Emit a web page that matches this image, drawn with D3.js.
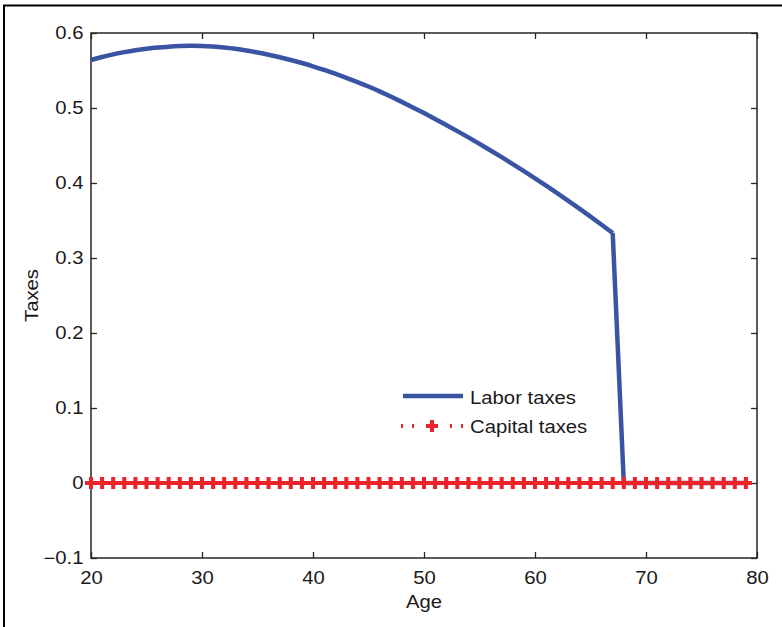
<!DOCTYPE html>
<html><head><meta charset="utf-8">
<script src="https://cdn.jsdelivr.net/npm/d3@7"></script>
<style>body{margin:0;background:#fff;}svg{display:block;font-family:"Liberation Sans",Arial,sans-serif;}</style>
</head><body>
<svg id="c" width="782" height="627"></svg>
<script>
const ages = d3.range(20, 80);
const laborTaxes = [0.5640,0.5680,0.5715,0.5745,0.5770,0.5790,0.5806,0.5818,0.5826,0.5829,
  0.5828,0.5820,0.5807,0.5789,0.5766,0.5739,0.5709,0.5676,0.5640,0.5600,
  0.5556,0.5508,0.5457,0.5403,0.5346,0.5286,0.5221,0.5153,0.5082,0.5008,
  0.4932,0.4854,0.4774,0.4692,0.4608,0.4522,0.4434,0.4344,0.4252,0.4158,
  0.4062,0.3964,0.3864,0.3762,0.3658,0.3552,0.3444,0.3334,0,0,
  0,0,0,0,0,0,0,0,0,0];
const capitalTaxes = ages.map(() => 0);
const xTicks = [20,30,40,50,60,70,80];
const yTicks = [-0.1,0,0.1,0.2,0.3,0.4,0.5,0.6];
const seriesNames = ["Labor taxes","Capital taxes"];

const svg = d3.select("#c");
const L=91, R=757, T=33, B=558;
const x = d3.scaleLinear().domain([20,80]).range([L,R]);
const y = d3.scaleLinear().domain([-0.1,0.6]).range([B,T]);
const blue="#3a54a4", red="#ee2229", axc="#262626";
const FS = "17.5px", SX = 1.16;

// outer frame
svg.append("rect").attr("x",4).attr("y",5.5).attr("width",900).attr("height",800)
  .attr("fill","none").attr("stroke","#000").attr("stroke-width",2);

// axes box
svg.append("rect").attr("x",L).attr("y",T).attr("width",R-L).attr("height",B-T)
  .attr("fill","none").attr("stroke",axc).attr("stroke-width",1.5);

const fmt = d => d===0 ? "0" : (d<0 ? "\u2212"+Math.abs(d).toFixed(1) : d.toFixed(1));
const ax = svg.append("g").attr("transform",`translate(0,${B})`)
  .call(d3.axisBottom(x).tickValues(xTicks).tickSize(-6).tickPadding(13.5).tickFormat(d3.format("d")));
const axT = svg.append("g").attr("transform",`translate(0,${T})`)
  .call(d3.axisTop(x).tickValues(xTicks).tickSize(-6).tickFormat(""));
const ay = svg.append("g").attr("transform",`translate(${L},0)`)
  .call(d3.axisLeft(y).tickValues(yTicks).tickSize(-6).tickPadding(6.5).tickFormat(fmt));
const ayR = svg.append("g").attr("transform",`translate(${R},0)`)
  .call(d3.axisRight(y).tickValues(yTicks).tickSize(-6).tickFormat(""));
[ax,axT,ay,ayR].forEach(g=>{
  g.select(".domain").remove();
  g.selectAll(".tick line").attr("stroke",axc).attr("stroke-width",1.3);
  g.selectAll(".tick text").attr("fill","#1a1a1a").style("font-size",FS)
    .style("font-family","Liberation Sans, Arial, sans-serif")
    .attr("transform",`scale(${SX},1)`);
});

// axis labels
svg.append("text").attr("transform",`translate(${(L+R)/2},607.5) scale(${SX},1)`).attr("text-anchor","middle")
  .attr("fill","#1a1a1a").style("font-size",FS).text("Age");
svg.append("text").attr("transform",`translate(38,${(T+B)/2}) rotate(-90) scale(${SX},1)`).attr("text-anchor","middle")
  .attr("fill","#1a1a1a").style("font-size",FS).text("Taxes");

const line = d3.line().x(d=>x(d.a)).y(d=>y(d.v));
const pts = laborTaxes.map((v,i)=>({a:ages[i], v}));
const lastWork = pts.findIndex(p=>p.v===0) - 1;

// labor line: smooth working-life part, then straight drop and zeros
svg.append("path").datum(pts.slice(0,lastWork+1)).attr("d",line.curve(d3.curveMonotoneX)).attr("fill","none")
  .attr("stroke",blue).attr("stroke-width",4.5);
svg.append("path").datum(pts.slice(lastWork)).attr("d",line.curve(d3.curveLinear)).attr("fill","none")
  .attr("stroke",blue).attr("stroke-width",4.5);

// capital line
const cpts = capitalTaxes.map((v,i)=>({a:ages[i], v}));
svg.append("path").datum(cpts).attr("d",line.curve(d3.curveLinear)).attr("fill","none")
  .attr("stroke",red).attr("stroke-width",4).attr("stroke-dasharray","2,2");
const plus = "M-4,0H4M0,-4V4";
svg.append("g").selectAll("path").data(cpts).join("path")
  .attr("transform",d=>`translate(${x(d.a)},${y(d.v)})`)
  .attr("d",plus).attr("stroke",red).attr("stroke-width",4).attr("stroke-linecap","square").attr("fill","none");

// legend
const lg = svg.append("g");
lg.append("line").attr("x1",403).attr("x2",463).attr("y1",396).attr("y2",396)
  .attr("stroke",blue).attr("stroke-width",4.5);
lg.append("text").attr("transform",`translate(470,403.5) scale(${SX},1)`).attr("fill","#1a1a1a").style("font-size",FS).text(seriesNames[0]);
lg.append("line").attr("x1",401).attr("x2",415).attr("y1",426).attr("y2",426)
  .attr("stroke",red).attr("stroke-width",4).attr("stroke-dasharray","2,9");
lg.append("line").attr("x1",450).attr("x2",464).attr("y1",426).attr("y2",426)
  .attr("stroke",red).attr("stroke-width",4).attr("stroke-dasharray","2,9");
lg.append("path").attr("transform","translate(432,426)").attr("d",plus)
  .attr("stroke",red).attr("stroke-width",4).attr("stroke-linecap","square").attr("fill","none");
lg.append("text").attr("transform",`translate(470,433) scale(${SX},1)`).attr("fill","#1a1a1a").style("font-size",FS).text(seriesNames[1]);
</script>
</body></html>
